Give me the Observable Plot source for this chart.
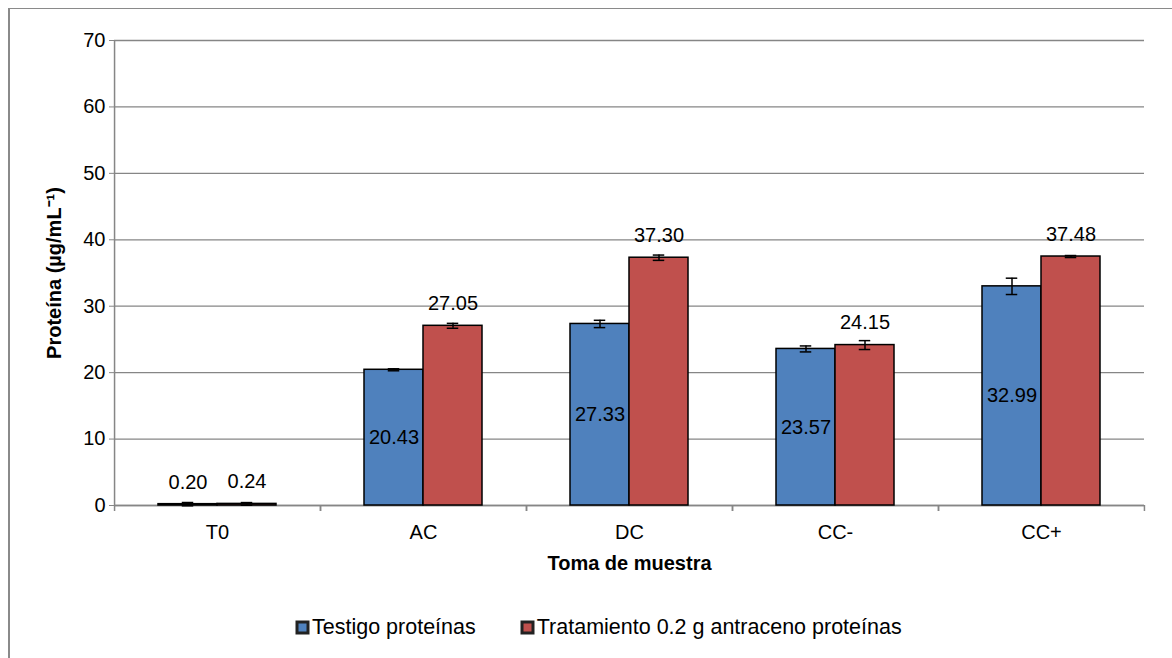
<!DOCTYPE html>
<html>
<head>
<meta charset="utf-8">
<script src="https://cdn.jsdelivr.net/npm/d3@7"></script>
<script src="https://cdn.jsdelivr.net/npm/@observablehq/plot@0.6"></script>
<style>
  html, body { margin: 0; padding: 0; background: #fff; }
  body { width: 1172px; height: 658px; position: relative; overflow: hidden; font-family: "Liberation Sans", Arial, sans-serif; }
  #border { position: absolute; left: 8px; top: 8px; width: 1200px; height: 700px; border-left: 2px solid #8a8a8a; border-top: 1px solid #8a8a8a; }
  #chart { position: absolute; left: 0; top: 0; }
  #legend { position: absolute; left: 0; top: 611px; width: 1172px; }
  g[aria-label="fx-axis label"] text, g[aria-label="y-axis label"] text { font-weight: bold; }
  .lg-swatch > svg { margin-right: 4px !important; }
  .lg-swatch svg rect { stroke: #222; stroke-width: 3px; }
  .lg-swatch { margin-right: 46px !important; }
</style>
</head>
<body>
<div id="border"></div>
<div id="chart"></div>
<div id="legend"></div>
<script>
// ---- data ----
const categories = ["T0", "AC", "DC", "CC-", "CC+"];
const series = ["Testigo proteínas", "Tratamiento 0.2 g antraceno proteínas"];
const testigo = [0.20, 20.43, 27.33, 23.57, 32.99];
const tratamiento = [0.24, 27.05, 37.30, 24.15, 37.48];
const testigoErr = [0.25, 0.15, 0.55, 0.45, 1.23];
const tratamientoErr = [0.2, 0.37, 0.4, 0.67, 0.15];
const yTicks = [0, 10, 20, 30, 40, 50, 60, 70];
const colors = ["#4F81BD", "#C0504D"];

// ---- layout ----
const W = 1172, H = 580;
const mL = 113, mR = 27, mT = 40, mB = 75;
const facetW = (W - mL - mR) / categories.length;
const xPad = 0.734;
const barW = facetW / (2 + 2 * xPad);
const edgeDx = (xPad + 0.5) * barW;
const pxPerUnit = (H - mT - mB) / (yTicks[yTicks.length - 1] - yTicks[0]);
const tickLen = 6 / pxPerUnit;

const rows = [];
categories.forEach((c, i) => {
  rows.push({cat: c, series: series[0], value: testigo[i], err: testigoErr[i]});
  rows.push({cat: c, series: series[1], value: tratamiento[i], err: tratamientoErr[i]});
});
const fmt = d3.format(".2f");
const inside = d => d.series === series[0] && d.value > 5;

const grey = "#868686";
const font = "'Liberation Sans', Arial, sans-serif";

const plot = Plot.plot({
  width: W, height: H,
  marginLeft: mL, marginRight: mR, marginTop: mT, marginBottom: mB,
  style: {fontFamily: font, fontSize: "20px", color: "#000", background: "transparent"},
  fx: {domain: categories, paddingInner: 0, paddingOuter: 0, axis: null},
  x: {domain: series, paddingInner: 0, paddingOuter: xPad, axis: null},
  y: {domain: [yTicks[0], yTicks[yTicks.length - 1]], axis: null},
  color: {domain: series, range: colors},
  marks: [
    Plot.gridY({ticks: yTicks, stroke: grey, strokeOpacity: 1, strokeWidth: 1.3}),
    Plot.axisY({ticks: yTicks, tickSize: 5, tickPadding: 4, stroke: grey, fill: "#000", fontSize: 20,
      label: "Proteína (µg/mL⁻¹)", labelAnchor: "center", labelOffset: 68, labelArrow: "none"}),
    Plot.axisFx({anchor: "bottom", tickSize: 0, tickPadding: 19, fontSize: 20, fill: "#000",
      label: "Toma de muestra", labelAnchor: "center", labelOffset: 64, labelArrow: "none"}),
    // y axis line (first facet only)
    Plot.ruleX([{cat: categories[0]}], {fx: "cat", x: () => series[0], dx: -edgeDx, y1: yTicks[0], y2: yTicks[yTicks.length - 1], stroke: grey, strokeWidth: 1.5}),
    // category boundary ticks
    Plot.ruleX(categories.map(c => ({cat: c})), {fx: "cat", x: () => series[0], dx: -edgeDx, y1: 0, y2: -tickLen, stroke: grey, strokeWidth: 1.5}),
    Plot.ruleX(categories.map(c => ({cat: c})), {fx: "cat", x: () => series[1], dx: edgeDx, y1: 0, y2: -tickLen, stroke: grey, strokeWidth: 1.5}),
    Plot.ruleY([0], {stroke: grey, strokeWidth: 1.5}),
    Plot.barY(rows, {fx: "cat", x: "series", y: "value", fill: "series", stroke: "#000", strokeWidth: 1.5, insetLeft: 0, insetRight: 0}),
    Plot.ruleX(rows, {fx: "cat", x: "series", y1: d => d.value - d.err, y2: d => d.value + d.err, stroke: "#000", strokeWidth: 1.5}),
    Plot.tickY(rows, {fx: "cat", x: "series", y: d => d.value - d.err, stroke: "#000", strokeWidth: 1.5, insetLeft: (barW - 12) / 2, insetRight: (barW - 12) / 2}),
    Plot.tickY(rows, {fx: "cat", x: "series", y: d => d.value + d.err, stroke: "#000", strokeWidth: 1.5, insetLeft: (barW - 12) / 2, insetRight: (barW - 12) / 2}),
    Plot.text(rows.filter(inside), {fx: "cat", x: "series", y: d => d.value / 2, text: d => fmt(d.value), fontSize: 20, fill: "#000"}),
    Plot.text(rows.filter(d => !inside(d)), {fx: "cat", x: "series", y: "value", text: d => fmt(d.value), dy: -22, fontSize: 20, fill: "#000"})
  ]
});
document.getElementById("chart").appendChild(plot);

const legend = Plot.legend({
  color: {domain: series, range: colors},
  legend: "swatches",
  swatchSize: 11,
  className: "lg",
  style: {fontFamily: font, fontSize: "21.5px", color: "#000", marginLeft: "297px"}
});
document.getElementById("legend").appendChild(legend);
</script>
</body>
</html>
